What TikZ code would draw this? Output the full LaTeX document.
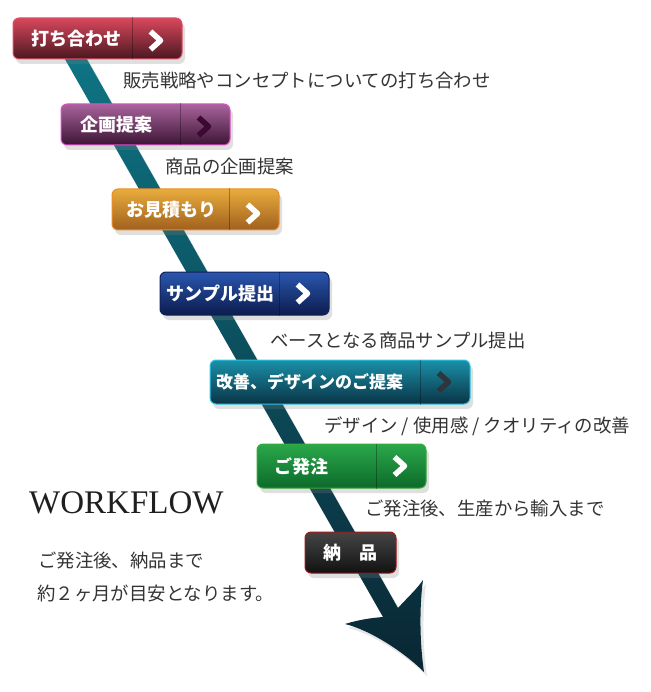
\documentclass[tikz,border=0pt]{standalone}
\usepackage{fontspec}
\setmainfont{Liberation Serif}
\newfontfamily\jpfont{Noto Sans CJK JP}
\usepackage{tikz}
\usetikzlibrary{positioning, shadows}

\definecolor{arrowtop}{HTML}{0E7686}
\definecolor{arrowbot}{HTML}{0A2633}
\definecolor{desctext}{HTML}{333333}
\definecolor{redtop}{HTML}{D9475C}
\definecolor{redbot}{HTML}{4A1820}
\definecolor{redline}{HTML}{E0506A}
\definecolor{purtop}{HTML}{A8649C}
\definecolor{purbot}{HTML}{3C1434}
\definecolor{purline}{HTML}{E050C8}
\definecolor{purchev}{HTML}{3A0A32}
\definecolor{goldtop}{HTML}{E8AC3C}
\definecolor{goldbot}{HTML}{A0601E}
\definecolor{goldline}{HTML}{EC8C28}
\definecolor{bluetop}{HTML}{2A56AE}
\definecolor{bluebot}{HTML}{0C1C4E}
\definecolor{blueline}{HTML}{10205A}
\definecolor{tealtop}{HTML}{1A90A8}
\definecolor{tealbot}{HTML}{0A3446}
\definecolor{tealline}{HTML}{30C8E8}
\definecolor{tealchev}{HTML}{2E363C}
\definecolor{greentop}{HTML}{2AA84A}
\definecolor{greenbot}{HTML}{0C6A2A}
\definecolor{greenline}{HTML}{38A838}
\definecolor{darktop}{HTML}{454545}
\definecolor{darkbot}{HTML}{121212}
\definecolor{darkline}{HTML}{A01818}

\begin{document}
\begin{tikzpicture}
              [x=1pt, y=-1pt,
               btn/.style={rounded corners=6pt, inner sep=0pt, line width=1pt,
                 minimum width=169pt, minimum height=41pt,
                 drop shadow={shadow xshift=3pt, shadow yshift=-5pt, opacity=0.25}},
               btntext/.style={text=white, inner sep=0pt,
                 font=\jpfont\bfseries\fontsize{18}{18}\selectfont},
               divider/.style={line width=0.8pt, black, opacity=0.3},
               chev/.style={line width=5.5pt, white, line join=round},
               desc/.style={anchor=west, inner sep=0pt, text=desctext,
                 font=\jpfont\fontsize{18.4}{18.4}\selectfont}]
              \useasboundingbox (0,0) rectangle (650,692);

              % arrow %
              \shade[top color=arrowtop, bottom color=arrowbot,
                drop shadow={shadow xshift=3pt, shadow yshift=-4pt, opacity=0.2}]
                (54,40) -- (76,40) -- (398,608)
                .. controls (407,598) and (416,590) .. (423,580)
                .. controls (419,610) and (420,645) .. (424,672)
                .. controls (404,652) and (370,630) .. (345,624)
                .. controls (358,620) and (370,618) .. (383,617) -- cycle;

              % buttons %
              \node[btn, top color=redtop, bottom color=redbot, draw=redline] (b1) at (97.5,38.5) {};
              \node[btn, top color=purtop, bottom color=purbot, draw=purline] (b2) at (145.5,124.5) {};
              \node[btn, minimum width=167pt, top color=goldtop, bottom color=goldbot, draw=goldline] (b3) at (195.5,209.5) {};
              \node[btn, minimum height=43pt, top color=bluetop, bottom color=bluebot, draw=blueline] (b4) at (244.5,293.5) {};
              \node[btn, minimum width=260pt, minimum height=44pt, top color=tealtop, bottom color=tealbot, draw=tealline] (b5) at (340,382) {};
              \node[btn, minimum height=44pt, top color=greentop, bottom color=greenbot, draw=greenline] (b6) at (341.5,466) {};
              \node[btn, minimum width=91pt, top color=darktop, bottom color=darkbot, draw=darkline] (b7) at (350.5,552.5) {};

              % dividers %
              \draw[divider] ([xshift=-50pt]b1.north east) -- ([xshift=-50pt]b1.south east);
              \draw[divider] ([xshift=-50pt]b2.north east) -- ([xshift=-50pt]b2.south east);
              \draw[divider] ([xshift=-50pt]b3.north east) -- ([xshift=-50pt]b3.south east);
              \draw[divider] ([xshift=-50pt]b4.north east) -- ([xshift=-50pt]b4.south east);
              \draw[divider] ([xshift=-50pt]b5.north east) -- ([xshift=-50pt]b5.south east);
              \draw[divider] ([xshift=-50pt]b6.north east) -- ([xshift=-50pt]b6.south east);

              % chevrons %
              \draw[chev] ([xshift=-32pt,yshift=7pt]b1.east) -- ([xshift=-22pt,yshift=-2pt]b1.east) -- ([xshift=-32pt,yshift=-11pt]b1.east);
              \draw[chev, purchev] ([xshift=-32pt,yshift=7pt]b2.east) -- ([xshift=-22pt,yshift=-2pt]b2.east) -- ([xshift=-32pt,yshift=-11pt]b2.east);
              \draw[chev] ([xshift=-32pt,yshift=5pt]b3.east) -- ([xshift=-22pt,yshift=-4pt]b3.east) -- ([xshift=-32pt,yshift=-13pt]b3.east);
              \draw[chev] ([xshift=-32pt,yshift=9pt]b4.east) -- ([xshift=-22pt]b4.east) -- ([xshift=-32pt,yshift=-9pt]b4.east);
              \draw[chev, tealchev] ([xshift=-32pt,yshift=9pt]b5.east) -- ([xshift=-22pt]b5.east) -- ([xshift=-32pt,yshift=-9pt]b5.east);
              \draw[chev] ([xshift=-32pt,yshift=9pt]b6.east) -- ([xshift=-22pt]b6.east) -- ([xshift=-32pt,yshift=-9pt]b6.east);

              % button texts %
              \node[btntext] (t1) at (76.5,38.5) {打ち合わせ};
              \node[btntext] (t2) at (116,124.5) {企画提案};
              \node[btntext] (t3) at (171.5,209.5) {お見積もり};
              \node[btntext] (t4) at (220.5,293.5) {サンプル提出};
              \node[btntext, font=\jpfont\bfseries\fontsize{17}{17}\selectfont] (t5) at (309.5,382) {改善、デザインのご提案};
              \node[btntext] (t6) at (301,466) {ご発注};
              \node[btntext] (t7) at (350.5,552.5) {納　品};

              % descriptions %
              \node[desc] (d1) at (123,80.5) {販売戦略やコンセプトについての打ち合わせ};
              \node[desc] (d2) at (165,166.5) {商品の企画提案};
              \node[desc] (d3) at (270,341) {ベースとなる商品サンプル提出};
              \node[desc] (d4) at (324,426) {デザイン / 使用感 / クオリティの改善};
              \node[desc] (d5) at (365,508.5) {ご発注後、生産から輸入まで};

              % workflow %
              \node[anchor=west, inner sep=0pt, text=black!88, font=\fontsize{33}{33}\selectfont] (wf) at (29,503) {WORKFLOW};
              \node[desc] (w1) at (38,560.5) {ご発注後、納品まで};
              \node[desc] (w2) at (37,593.5) {約２ヶ月が目安となります。};
            \end{tikzpicture}
\end{document}
